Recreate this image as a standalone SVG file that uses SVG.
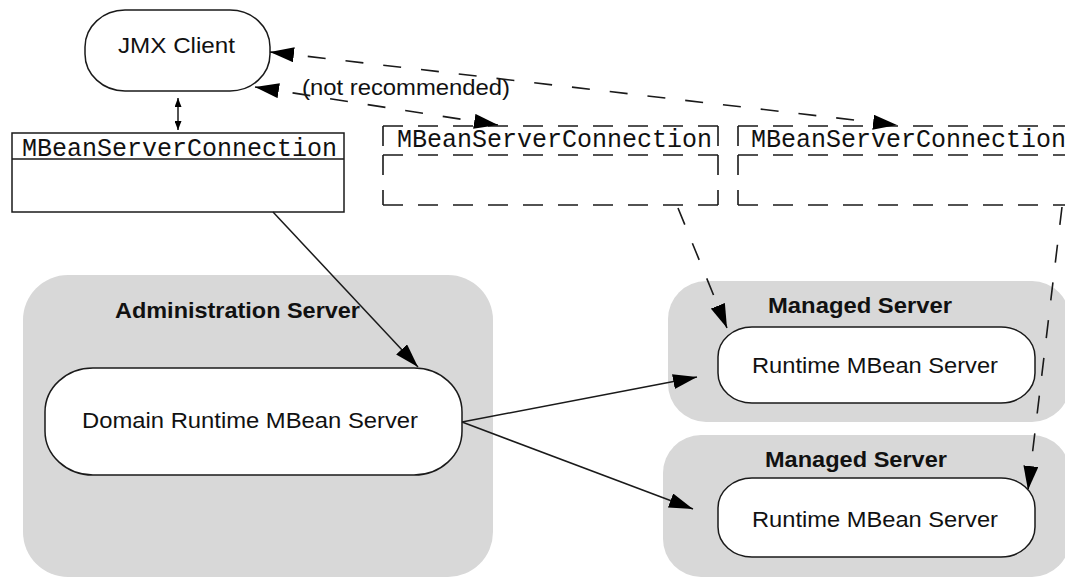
<svg xmlns="http://www.w3.org/2000/svg" width="1065" height="579" viewBox="0 0 1065 579">
<style>
.bg{fill:#ffffff}
.srv{fill:#d8d8d8;stroke:none}
.pill{fill:#ffffff;stroke:#1a1a1a;stroke-width:1.5}
.box{fill:#ffffff;stroke:#1a1a1a;stroke-width:1.5}
.dbox{fill:none;stroke:#1a1a1a;stroke-width:1.6;stroke-dasharray:20 15}
.t{font-family:"Liberation Sans",Arial,sans-serif;font-size:22px;fill:#111}
.tb{font-family:"Liberation Sans",Arial,sans-serif;font-size:22px;font-weight:bold;fill:#111}
.mono{font-family:"Liberation Mono","Courier New",monospace;font-size:25px;fill:#111}
.solid{fill:none;stroke:#1a1a1a;stroke-width:1.5}
.dash{fill:none;stroke:#1a1a1a;stroke-width:1.6;stroke-dasharray:18 20}
</style>
<defs>
<marker id="ah" viewBox="0 0 24 15" refX="24" refY="7.5" markerWidth="24" markerHeight="15" markerUnits="userSpaceOnUse" orient="auto-start-reverse">
<path d="M0,0 L24,7.5 L0,15 z" fill="#000"/>
</marker>
<marker id="ahs" viewBox="0 0 9 7" refX="9" refY="3.5" markerWidth="9" markerHeight="7" markerUnits="userSpaceOnUse" orient="auto-start-reverse">
<path d="M0,0 L9,3.5 L0,7 z" fill="#000"/>
</marker>
</defs>
<rect class="bg" x="0" y="0" width="1065" height="579"/>

<g id="admin-server">
<rect class="srv" x="23" y="275" width="470" height="302" rx="45" ry="45"/>
<text class="tb" x="115" y="318" textLength="245" lengthAdjust="spacingAndGlyphs">Administration Server</text>
</g>
<g id="domain-runtime">
<rect class="pill" x="45" y="368" width="417" height="107" rx="48" ry="44"/>
<text class="t" x="82" y="428" textLength="336" lengthAdjust="spacingAndGlyphs">Domain Runtime MBean Server</text>
</g>

<g id="managed-server-1">
<rect class="srv" x="668" y="281" width="402" height="141" rx="38" ry="38"/>
<text class="tb" x="768" y="313" textLength="184" lengthAdjust="spacingAndGlyphs">Managed Server</text>
</g>
<g id="runtime-1">
<rect class="pill" x="718" y="327" width="317" height="76" rx="34" ry="30"/>
<text class="t" x="752" y="373" textLength="246" lengthAdjust="spacingAndGlyphs">Runtime MBean Server</text>
</g>

<g id="managed-server-2">
<rect class="srv" x="663" y="435" width="407" height="142" rx="38" ry="38"/>
<text class="tb" x="765" y="467" textLength="182" lengthAdjust="spacingAndGlyphs">Managed Server</text>
</g>
<g id="runtime-2">
<rect class="pill" x="718" y="478" width="317" height="79" rx="34" ry="30"/>
<text class="t" x="752" y="527" textLength="246" lengthAdjust="spacingAndGlyphs">Runtime MBean Server</text>
</g>

<g id="jmx-client">
<rect class="pill" x="85" y="10" width="185" height="81" rx="40" ry="37"/>
<text class="t" x="118" y="53" textLength="117" lengthAdjust="spacingAndGlyphs">JMX Client</text>
</g>

<g id="mbsc-1">
<rect class="box" x="12" y="133" width="332" height="79"/>
<line class="solid" x1="12" y1="159" x2="344" y2="159"/>
<text class="mono" x="22" y="156" textLength="315" lengthAdjust="spacingAndGlyphs">MBeanServerConnection</text>
</g>

<g id="mbsc-2">
<path class="dbox" d="M383,126 H718 M383,155 H718 M383,205 H718 M383,126 V155 M383,155 V205 M718,126 V155 M718,155 V205"/>
<text class="mono" x="397" y="147" textLength="315" lengthAdjust="spacingAndGlyphs">MBeanServerConnection</text>
</g>

<g id="mbsc-3">
<path class="dbox" d="M738,126 H1070 M738,155 H1070 M738,205 H1070 M738,126 V155 M738,155 V205"/>
<text class="mono" x="751" y="147" textLength="315" lengthAdjust="spacingAndGlyphs">MBeanServerConnection</text>
</g>

<g id="label-not-recommended">
<text class="t" x="302" y="95" font-size="21" textLength="208" lengthAdjust="spacingAndGlyphs">(not recommended)</text>
</g>

<g id="connectors">
<line class="solid" x1="178" y1="98" x2="178" y2="130" marker-start="url(#ahs)" marker-end="url(#ahs)"/>
<line class="solid" x1="273" y1="212" x2="418" y2="367" marker-end="url(#ah)"/>
<line class="solid" x1="462" y1="422" x2="697" y2="377" marker-end="url(#ah)"/>
<line class="solid" x1="462" y1="422" x2="693" y2="509" marker-end="url(#ah)"/>
<line class="dash" x1="255" y1="87" x2="498" y2="125" marker-start="url(#ah)" marker-end="url(#ah)"/>
<line class="dash" x1="270" y1="52" x2="897" y2="125" marker-start="url(#ah)" marker-end="url(#ah)"/>
<line class="dash" x1="678" y1="208" x2="727" y2="328" marker-end="url(#ah)"/>
<line class="dash" x1="1062" y1="207" x2="1028" y2="490" marker-end="url(#ah)"/>
</g>
</svg>
